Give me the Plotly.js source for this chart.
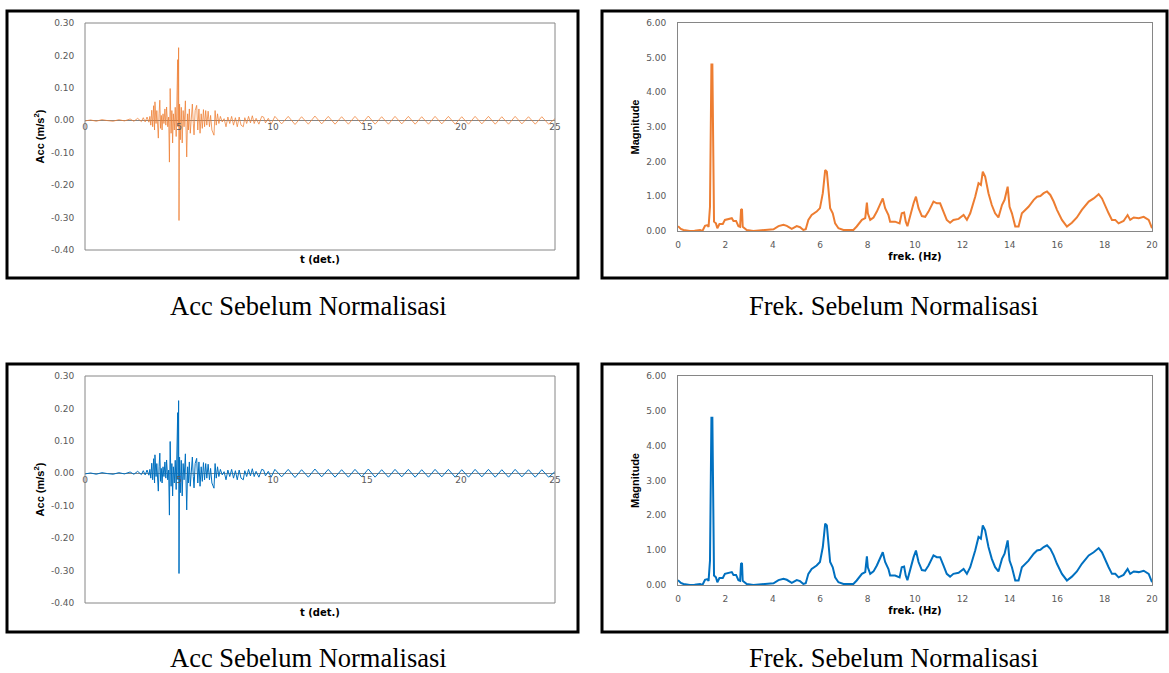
<!DOCTYPE html>
<html>
<head>
<meta charset="utf-8">
<script src="https://cdn.plot.ly/plotly-3.0.1.min.js"></script>
<style>html,body{margin:0;padding:0;background:#fff;}#chart{width:1169px;height:673px;}</style>
</head>
<body>
<div id="chart"></div>
<script>
// ---------- DATA ----------
const accTime = [
  0,0.3,0.6,0.9,1.2,1.5,1.8,2.1,2.4,2.6,2.8,3.0,3.1,3.2,3.3,3.4,
  3.45,3.5,3.55,3.6,3.65,3.7,3.72,3.78,3.82,3.86,
  3.9,3.94,3.98,4.02,4.06,4.1,4.15,4.2,4.25,4.3,
  4.34,4.4,4.45,4.49,4.53,4.58,4.62,4.66,4.7,4.75,
  4.8,4.85,4.9,4.93,4.95,4.98,5.0,5.03,5.07,5.12,
  5.17,5.22,5.27,5.34,5.41,5.46,5.5,5.55,5.6,5.66,
  5.71,5.76,5.8,5.86,5.94,6.0,6.06,6.12,6.18,6.24,
  6.3,6.36,6.42,6.48,6.55,6.62,6.68,6.75,6.86,6.92,
  6.98,7.05,7.12,7.2,7.3,7.4,7.5,7.6,7.7,7.8,
  7.9,8.0,8.1,8.2,8.3,8.42,8.5,8.6,8.7,8.8,
  8.9,9.0,9.1,9.25,9.4,9.5,9.6,9.75,9.9,10.1,
  10.46,10.81,11.17,11.52,11.88,12.23,12.59,12.94,13.3,13.65,
  14.01,14.36,14.72,15.07,15.43,15.78,16.14,16.49,16.85,17.2,
  17.56,17.91,18.27,18.62,18.98,19.33,19.69,20.04,20.4,20.75,
  21.11,21.46,21.82,22.17,22.53,22.88,23.24,23.59,23.95,24.3,
  24.66,25.0
];
const accValue = [
  -0.002,0.001,-0.003,0.002,-0.001,-0.003,0.002,-0.002,0.004,-0.003,0.006,-0.004,0.008,-0.005,0.010,-0.006,
  0.012,-0.015,0.031,-0.02,0.045,-0.03,0.057,-0.01,0.03,-0.045,
  -0.055,0.02,0.062,-0.025,0.015,-0.03,0.02,-0.01,0.035,-0.015,
  0.041,-0.02,0.01,-0.129,0.098,-0.04,0.03,-0.07,0.02,-0.03,
  0.04,-0.05,0.06,0.187,-0.02,0.224,-0.309,0.05,-0.06,0.04,
  -0.07,0.03,-0.02,0.06,-0.113,0.02,-0.03,0.035,-0.04,0.02,
  0.05,-0.01,-0.045,0.03,0.046,-0.03,0.035,-0.04,0.02,-0.025,
  0.033,-0.02,0.03,-0.015,0.028,-0.02,0.015,-0.03,-0.046,0.03,
  -0.015,0.02,-0.01,0.012,-0.005,0.005,-0.02,0.01,-0.01,0.012,
  -0.015,0.008,-0.02,0.01,-0.015,-0.02,0.008,-0.01,0.012,-0.008,
  0.014,-0.01,0.006,-0.012,0.012,0.01,-0.008,0.006,-0.012,0.012,
  -0.011,0.012,-0.013,0.011,-0.012,0.013,-0.011,0.012,-0.012,0.011,
  -0.012,0.012,-0.011,0.013,-0.012,0.011,-0.012,0.012,-0.011,0.012,
  -0.012,0.011,-0.012,0.012,-0.011,0.012,-0.012,0.011,-0.012,0.012,
  -0.011,0.012,-0.012,0.011,-0.012,0.012,-0.011,0.011,-0.012,0.011,
  -0.012,0.005
];
const freqHz = [
  0,0.12,0.23,0.35,0.5,0.7,0.93,1.03,1.14,1.24,
  1.29,1.35,1.41,1.45,1.49,1.52,1.6,1.66,1.75,1.89,
  1.98,2.13,2.27,2.34,2.45,2.55,2.62,2.66,2.70,2.73,
  2.79,2.9,3.18,3.46,3.74,4.03,4.24,4.45,4.59,4.8,
  5.01,5.15,5.29,5.39,5.5,5.64,5.85,5.99,6.11,6.21,
  6.28,6.35,6.42,6.53,6.63,6.77,6.98,7.4,7.54,7.76,
  7.9,7.97,8.01,8.11,8.25,8.39,8.53,8.64,8.74,8.88,
  8.95,9.16,9.35,9.44,9.54,9.61,9.68,9.8,9.94,10.04,
  10.15,10.29,10.43,10.57,10.78,10.92,11.06,11.2,11.34,11.48,
  11.62,11.84,12.05,12.19,12.33,12.54,12.68,12.78,12.86,12.96,
  13.1,13.24,13.38,13.52,13.67,13.78,13.91,13.99,14.09,14.23,
  14.37,14.51,14.66,14.79,15.01,15.15,15.29,15.43,15.57,15.71,
  15.85,15.99,16.2,16.41,16.62,16.83,17.04,17.33,17.54,17.75,
  17.89,18.03,18.17,18.31,18.45,18.59,18.8,18.97,19.08,19.23,
  19.44,19.65,19.86,20.0
];
const magnitude = [
  0.14,0.06,0.03,0.01,0.0,0.01,0.03,0.0,0.15,0.17,
  0.12,0.7,4.8,4.8,0.7,0.27,0.22,0.08,0.2,0.2,
  0.32,0.34,0.37,0.29,0.29,0.14,0.12,0.61,0.63,0.12,
  0.08,0.03,0.0,0.01,0.03,0.05,0.14,0.18,0.15,0.06,
  0.14,0.11,0.03,0.05,0.32,0.46,0.56,0.66,1.09,1.76,
  1.71,1.09,0.66,0.51,0.22,0.08,0.03,0.03,0.13,0.32,
  0.37,0.82,0.51,0.32,0.39,0.56,0.80,0.94,0.66,0.46,
  0.27,0.27,0.22,0.51,0.53,0.27,0.14,0.46,0.80,0.99,
  0.66,0.43,0.41,0.56,0.85,0.80,0.80,0.56,0.32,0.24,
  0.32,0.35,0.46,0.32,0.51,0.99,1.38,1.33,1.71,1.57,
  1.09,0.75,0.51,0.39,0.75,0.90,1.28,0.70,0.51,0.13,
  0.13,0.51,0.61,0.70,0.90,0.99,1.01,1.09,1.14,1.04,
  0.85,0.61,0.32,0.13,0.24,0.39,0.61,0.85,0.94,1.06,
  0.94,0.70,0.51,0.32,0.32,0.22,0.29,0.46,0.32,0.39,
  0.37,0.41,0.32,0.08
];
const accTickVals = [-0.4,-0.3,-0.2,-0.1,0,0.1,0.2,0.3];
const accTickText = ['-0.40','-0.30','-0.20','-0.10','0.00','0.10','0.20','0.30'];
const timeTickVals = [0,5,10,15,20,25];
const magTickVals = [0,1,2,3,4,5,6];
const magTickText = ['0.00','1.00','2.00','3.00','4.00','5.00','6.00'];
const freqTickVals = [0,2,4,6,8,10,12,14,16,18,20];
const captionAcc = 'Acc Sebelum Normalisasi';
const captionFreq = 'Frek. Sebelum Normalisasi';
const accTitle = 'Acc (m/s<sup>2</sup>)';
const timeTitle = 't (det.)';
const magTitle = 'Magnitude';
const freqTitle = 'frek. (Hz)';

// ---------- LAYOUT HELPERS ----------
const W = 1169, H = 673;
const px = x => x / W;
const py = y => 1 - y / H;
const ORANGE = '#ED7D31', BLUE = '#0070C0';
const tickFont = {family: 'DejaVu Sans', size: 9, color: '#595959'};
const xTitleFont = {family: 'DejaVu Sans', size: 10, color: '#000', weight: 'bold'};
const yTitleFont = {family: 'Liberation Sans', size: 11, color: '#000', weight: 'bold'};
const frameColor = '#868686';
const accRange = [-0.4, 0.3];
const ACC_L = 85, ACC_R = 555, SP_L = 678, SP_R = 1152;

function accY(anchor, topPx, botPx, title) {
  return {anchor: anchor, domain: [py(botPx), py(topPx)], range: accRange, tickvals: accTickVals, ticktext: accTickText,
    tickfont: tickFont, ticks: 'outside', ticklen: 8, tickcolor: 'rgba(0,0,0,0)',
    showline: false, showgrid: false,
    zeroline: true, zerolinecolor: frameColor, zerolinewidth: 1,
    title: {text: title, font: yTitleFont, standoff: 4}};
}
function accX(topPx, botPx) {
  const d0 = py(botPx), d1 = py(topPx);
  const pos = d0 + (0 - accRange[0]) / (accRange[1] - accRange[0]) * (d1 - d0);
  return {domain: [px(ACC_L), px(ACC_R)], range: [0, 25], anchor: 'free', position: pos,
    tickvals: timeTickVals, tickfont: tickFont, ticks: '', showline: false, showgrid: false, zeroline: false};
}
function magY(anchor, topPx, botPx, title) {
  return {anchor: anchor, domain: [py(botPx), py(topPx)], range: [0, 6], tickvals: magTickVals, ticktext: magTickText,
    tickfont: tickFont, ticks: 'outside', ticklen: 9, tickcolor: 'rgba(0,0,0,0)',
    showline: true, mirror: true, linecolor: frameColor, linewidth: 1, showgrid: false, zeroline: false,
    title: {text: title, font: yTitleFont, standoff: 4}};
}
function freqX(anchor, title) {
  return {domain: [px(SP_L), px(SP_R)], range: [0, 20], anchor: anchor, tickvals: freqTickVals,
    tickfont: tickFont, ticks: 'outside', ticklen: 5, tickcolor: 'rgba(0,0,0,0)',
    showline: true, mirror: true, linecolor: frameColor, linewidth: 1, showgrid: false, zeroline: false,
    title: {text: title, font: xTitleFont, standoff: 4}};
}
function frame(xa, ya) {
  return {type: 'rect', xref: xa + ' domain', yref: ya + ' domain', x0: 0, x1: 1, y0: 0, y1: 1,
    line: {color: frameColor, width: 1}, fillcolor: 'rgba(0,0,0,0)'};
}
function box(x0, y0, x1, y1) {
  return {type: 'rect', xref: 'paper', yref: 'paper', x0: px(x0), x1: px(x1), y0: py(y1), y1: py(y0),
    line: {color: '#000', width: 3}, fillcolor: 'rgba(0,0,0,0)'};
}
function caption(text, xc, yc) {
  return {text: text, xref: 'paper', yref: 'paper', x: px(xc), y: py(yc), xanchor: 'center', yanchor: 'middle',
    showarrow: false, font: {family: 'Liberation Serif', size: 26.5, color: '#000'}};
}
function xTitleNote(text, yc) {
  return {text: text, xref: 'paper', yref: 'paper', x: px((ACC_L + ACC_R) / 2), y: py(yc),
    xanchor: 'center', yanchor: 'middle', showarrow: false, font: xTitleFont};
}

const traces = [
  {x: accTime, y: accValue, xaxis: 'x', yaxis: 'y', type: 'scatter', mode: 'lines',
   line: {color: 'rgba(237,125,49,0.75)', width: 1}, hoverinfo: 'skip'},
  {x: freqHz, y: magnitude, xaxis: 'x2', yaxis: 'y2', type: 'scatter', mode: 'lines',
   line: {color: ORANGE, width: 2}, hoverinfo: 'skip'},
  {x: accTime, y: accValue, xaxis: 'x3', yaxis: 'y3', type: 'scatter', mode: 'lines',
   line: {color: BLUE, width: 1}, hoverinfo: 'skip'},
  {x: freqHz, y: magnitude, xaxis: 'x4', yaxis: 'y4', type: 'scatter', mode: 'lines',
   line: {color: BLUE, width: 2}, hoverinfo: 'skip'}
];

const layout = {
  width: W, height: H, margin: {l: 0, r: 0, t: 0, b: 0},
  paper_bgcolor: '#fff', plot_bgcolor: '#fff', showlegend: false,
  xaxis: accX(23, 250),
  yaxis: accY('x', 23, 250, accTitle),
  xaxis2: freqX('y2', freqTitle),
  yaxis2: magY('x2', 23, 231, magTitle),
  xaxis3: accX(376, 603),
  yaxis3: accY('x3', 376, 603, accTitle),
  xaxis4: freqX('y4', freqTitle),
  yaxis4: magY('x4', 376, 585, magTitle),
  shapes: [frame('x', 'y'), frame('x3', 'y3'),
           box(7, 11, 578, 278), box(602, 11, 1167, 278), box(7, 364, 578, 632), box(602, 364, 1167, 632)],
  annotations: [xTitleNote(timeTitle, 259), xTitleNote(timeTitle, 612),
                caption(captionAcc, 308, 306), caption(captionFreq, 893, 306),
                caption(captionAcc, 308, 658), caption(captionFreq, 893, 658)]
};

Plotly.newPlot('chart', traces, layout, {staticPlot: true, displayModeBar: false});
</script>
</body>
</html>
